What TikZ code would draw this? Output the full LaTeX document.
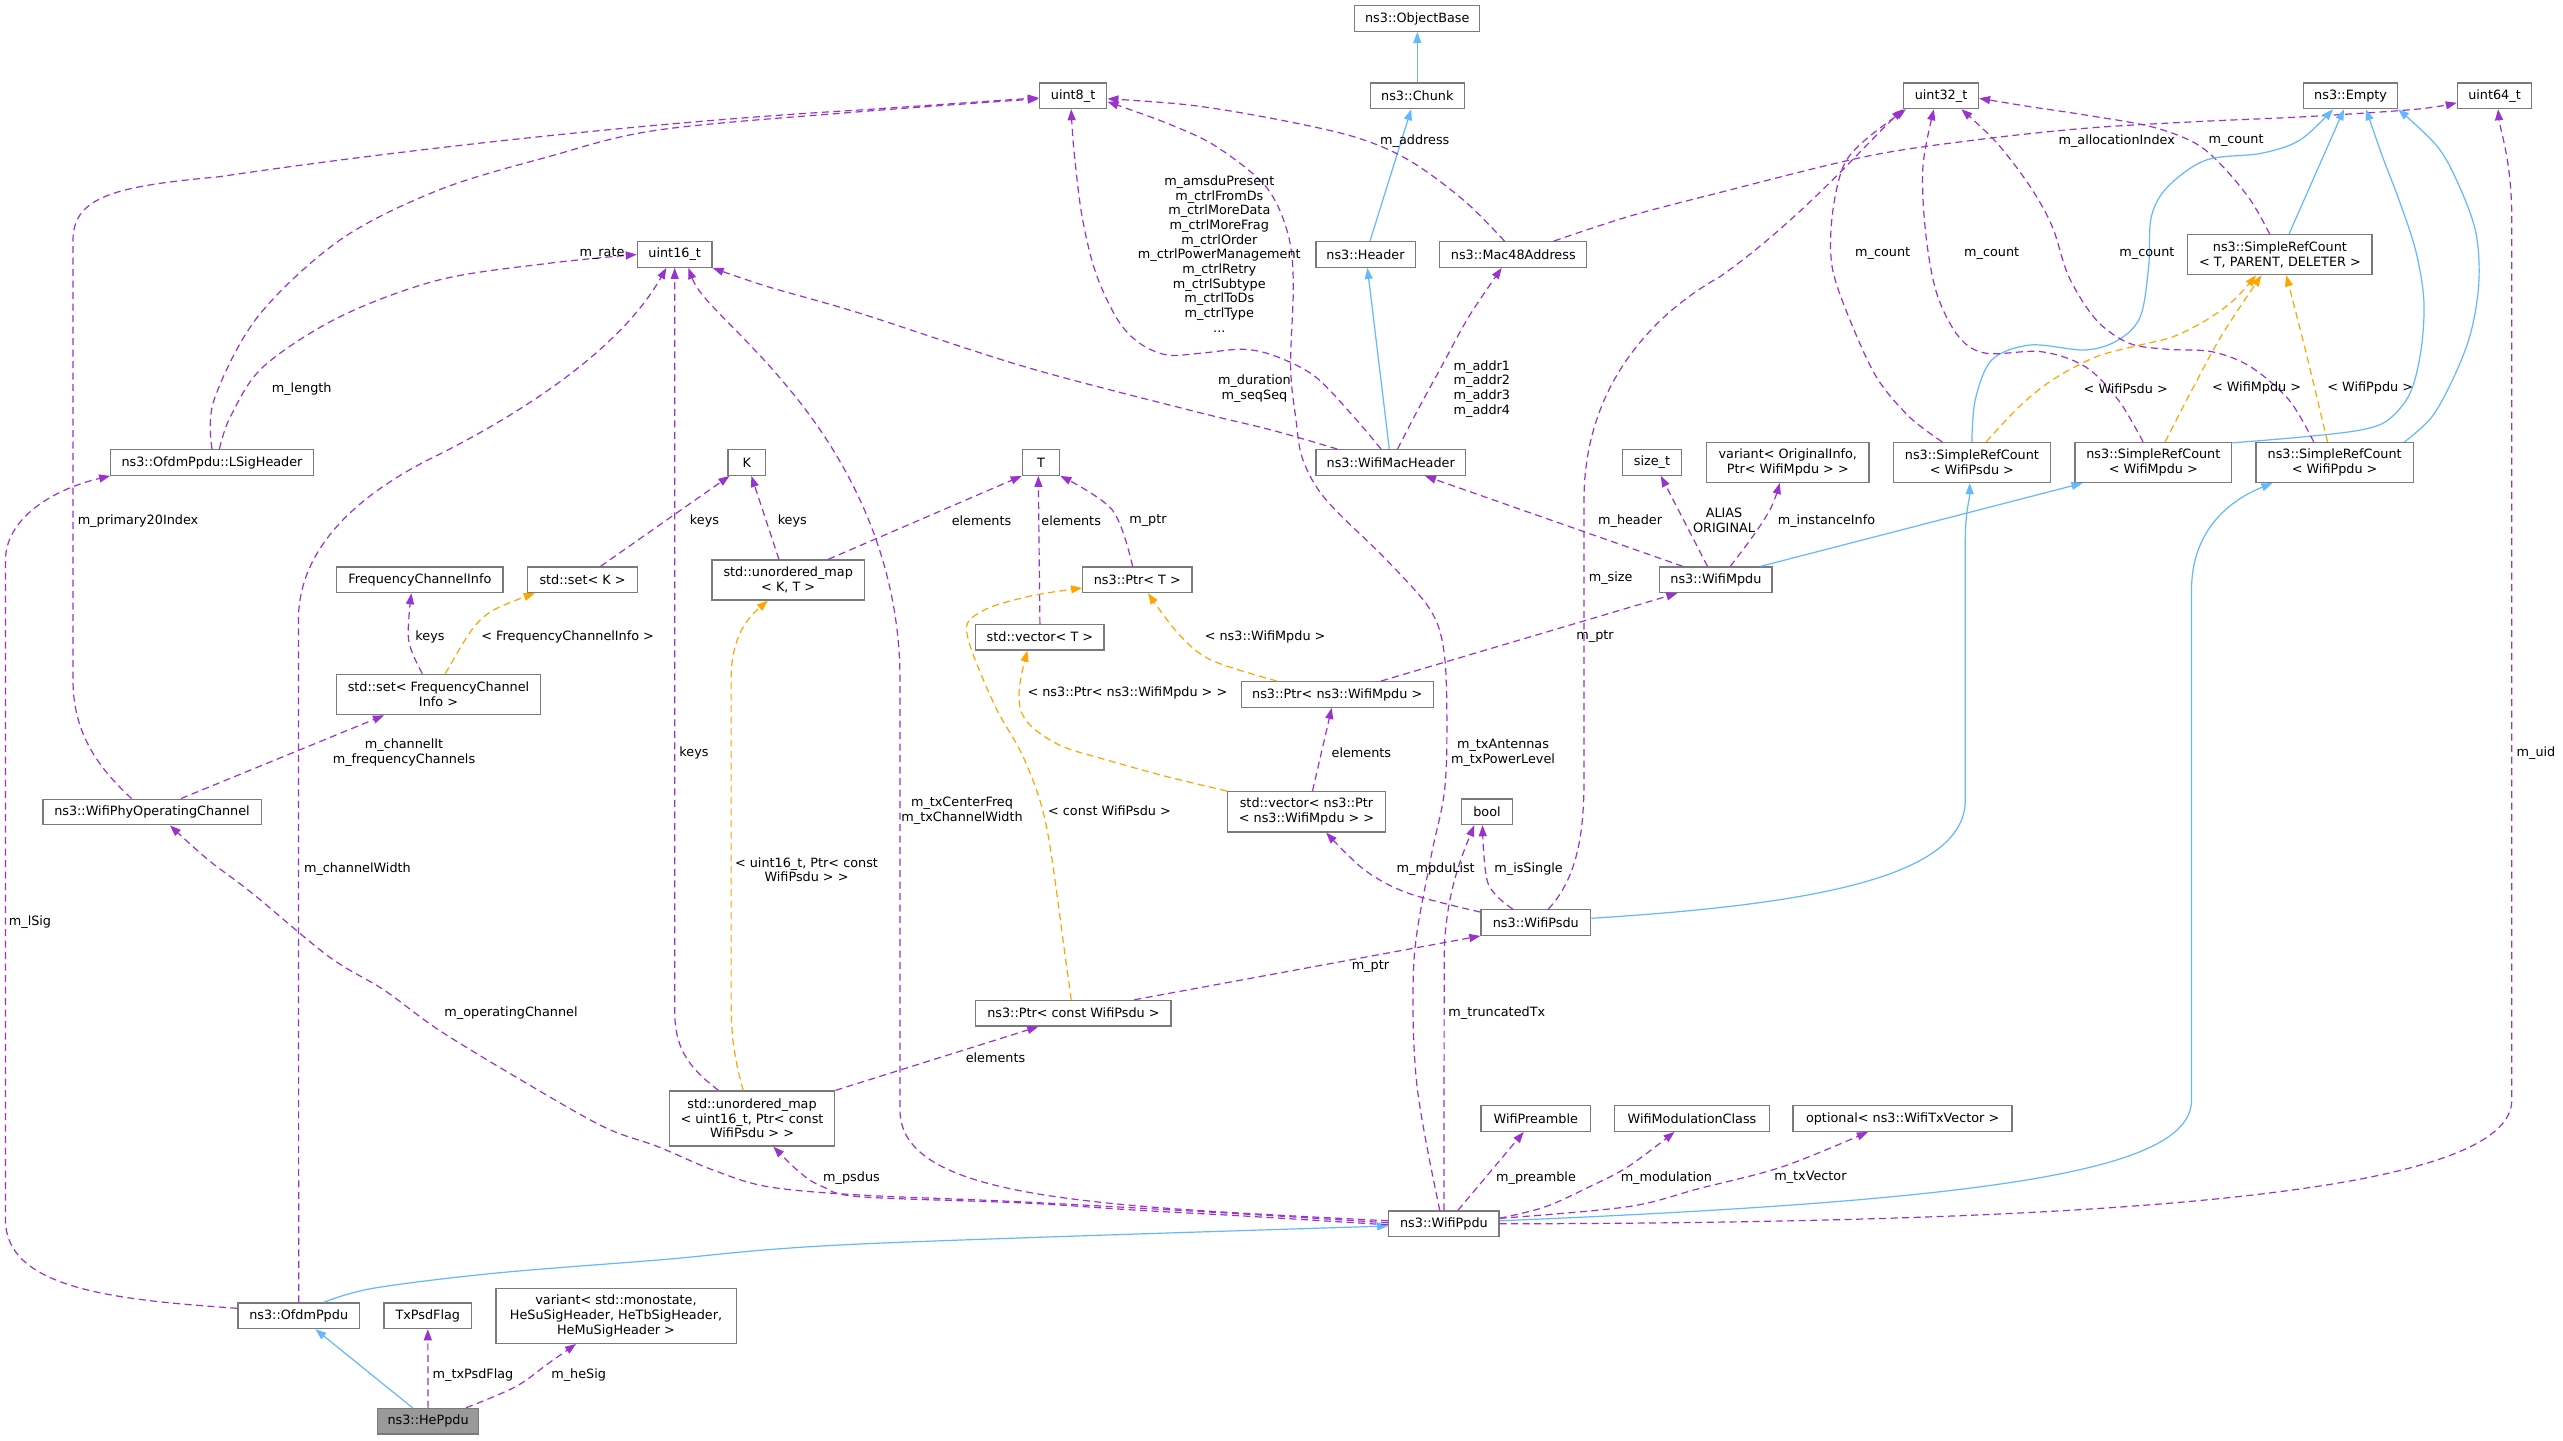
\documentclass[tikz,border=0pt]{standalone}
\usepackage{fontspec}
\setmainfont{DejaVu Sans}
\usetikzlibrary{arrows.meta}
\definecolor{purp}{HTML}{9A32CD}
\definecolor{blu}{HTML}{63B8FF}
\definecolor{orng}{HTML}{FFA500}
\definecolor{bord}{HTML}{7A7A7A}
\definecolor{hefill}{HTML}{999999}
\newcommand\dxf{\fontsize{12.8}{14.7}\selectfont}
\tikzset{
  box/.style={draw=bord, line width=1.3pt, fill=white, inner sep=2pt, minimum height=25.6pt, font=\dxf, align=center},
  lbl/.style={inner sep=0pt, font=\dxf, align=center},
  tipstyle/.style={-{Triangle[length=11pt,width=8pt]}},
  pe/.style={draw=purp, line width=1.2pt, dash pattern=on 7pt off 4.5pt, tipstyle},
  oe/.style={draw=orng, line width=1.2pt, dash pattern=on 7pt off 4.5pt, tipstyle},
  be/.style={draw=blu, line width=1.2pt, tipstyle},
  sm/.style={smooth, tension=.55}
}
\begin{document}
\begin{tikzpicture}[x=1pt,y=-1pt]
\fill[white] (0,0) rectangle (2563,1440);
\useasboundingbox (0,0) rectangle (2563,1440);

% ---------- nodes ----------
\node[box,minimum width=101.4pt,fill=hefill] (hepdu) at (428.1,1421.2) {ns3::HePpdu};
\node[box,minimum width=121.3pt] (ofdm) at (298.7,1315.8) {ns3::OfdmPpdu};
\node[box,minimum width=87.7pt] (txpsd) at (427.8,1315.8) {TxPsdFlag};
\node[box,minimum width=240.3pt,minimum height=54.7pt] (hesig) at (616,1316) {variant< std::monostate,\\ HeSuSigHeader, HeTbSigHeader,\\ HeMuSigHeader >};
\node[box,minimum width=110.2pt] (ppdu) at (1443.9,1223.8) {ns3::WifiPpdu};
\node[box,minimum width=109.7pt] (pre) at (1535.8,1118.5) {WifiPreamble};
\node[box,minimum width=154.7pt] (mod) at (1692,1118.5) {WifiModulationClass};
\node[box,minimum width=219pt] (txv) at (1902.6,1118.5) {optional< ns3::WifiTxVector >};
\node[box,minimum width=165.6pt,minimum height=55pt] (um16) at (752,1118.5) {std::unordered\_map\\< uint16\_t, Ptr< const\\ WifiPsdu > >};
\node[box,minimum width=195.3pt] (pconst) at (1073.4,1013.2) {ns3::Ptr< const WifiPsdu >};
\node[box,minimum width=218.3pt] (wpoc) at (152,812) {ns3::WifiPhyOperatingChannel};
\node[box,minimum width=203.5pt,minimum height=40.4pt] (setfci) at (438.5,694.5) {std::set< FrequencyChannel\\ Info >};
\node[box,minimum width=166.2pt] (fci) at (419.9,579.8) {FrequencyChannelInfo};
\node[box,minimum width=109.7pt] (setk) at (582.5,579.8) {std::set< K >};
\node[box,minimum width=152.4pt,minimum height=40pt] (umkt) at (788.2,580) {std::unordered\_map\\< K, T >};
\node[box,minimum width=37.8pt] (K) at (746.8,462.5) {K};
\node[box,minimum width=37.3pt] (T) at (1041,462.5) {T};
\node[box,minimum width=109.1pt] (ptrT) at (1137.3,579.8) {ns3::Ptr< T >};
\node[box,minimum width=128.4pt] (vecT) at (1039.9,637.2) {std::vector< T >};
\node[box,minimum width=192pt] (pmpdu) at (1337.2,694.5) {ns3::Ptr< ns3::WifiMpdu >};
\node[box,minimum width=158pt,minimum height=40.3pt] (vecp) at (1306.5,811.8) {std::vector< ns3::Ptr\\< ns3::WifiMpdu > >};
\node[box,minimum width=50.5pt] (bool) at (1487,811.8) {bool};
\node[box,minimum width=109.7pt] (psdu) at (1535.8,922.5) {ns3::WifiPsdu};
\node[box,minimum width=112.4pt] (mpdu) at (1715.9,579.8) {ns3::WifiMpdu};
\node[box,minimum width=149.7pt] (wmh) at (1390.7,462.5) {ns3::WifiMacHeader};
\node[box,minimum width=59.3pt] (sizet) at (1652,462.5) {size\_t};
\node[box,minimum width=162.4pt,minimum height=39.7pt] (vinfo) at (1787.8,462.5) {variant< OriginalInfo,\\ Ptr< WifiMpdu > >};
\node[box,minimum width=157.4pt,minimum height=40pt] (srcpsdu) at (1971.9,462.5) {ns3::SimpleRefCount\\< WifiPsdu >};
\node[box,minimum width=156.9pt,minimum height=40pt] (srcmpdu) at (2153.3,462.5) {ns3::SimpleRefCount\\< WifiMpdu >};
\node[box,minimum width=157.4pt,minimum height=40pt] (srcppdu) at (2334.6,462.5) {ns3::SimpleRefCount\\< WifiPpdu >};
\node[box,minimum width=184.4pt,minimum height=40pt] (srcT) at (2279.9,254.7) {ns3::SimpleRefCount\\< T, PARENT, DELETER >};
\node[box,minimum width=99.3pt] (hdr) at (1365.5,254.5) {ns3::Header};
\node[box,minimum width=147pt] (mac) at (1513.3,254.5) {ns3::Mac48Address};
\node[box,minimum width=74.6pt] (u16) at (674.7,254.5) {uint16\_t};
\node[box,minimum width=202.4pt] (lsig) at (212,462.5) {ns3::OfdmPpdu::LSigHeader};
\node[box,minimum width=67.4pt] (u8) at (1073.1,95.8) {uint8\_t};
\node[box,minimum width=94.3pt] (chunk) at (1417.3,95.8) {ns3::Chunk};
\node[box,minimum width=125pt] (objb) at (1417.3,18.5) {ns3::ObjectBase};
\node[box,minimum width=74.9pt] (u32) at (1941,95.8) {uint32\_t};
\node[box,minimum width=93.6pt] (empty) at (2350.6,95.8) {ns3::Empty};
\node[box,minimum width=74.3pt] (u64) at (2494.5,95.8) {uint64\_t};

% ---------- edges ----------
\draw[be] ([xshift=-15.6pt]hepdu.north) -- ([xshift=16.7pt]ofdm.south);
\draw[pe] (hepdu.north) -- (txpsd.south);
\draw[pe] plot[sm] coordinates {([xshift=38pt]hepdu.north) (515.6,1386.7) (548.5,1363.3) ([xshift=-40pt]hesig.south)};
\draw[be] plot[sm] coordinates {([xshift=24.9pt]ofdm.north) (373,1288.3) (493.7,1273.3) (658.2,1260) (860,1244) ([yshift=-2.2pt]ppdu.west)};
% m_lSig
\draw[pe] ([yshift=7.5pt]ofdm.west) .. controls (120,1300) and (5.5,1290) .. (5.5,1220) -- (5.5,560) .. controls (5.5,520) and (50,490) .. (lsig.south west);
% m_channelWidth
\draw[pe] (ofdm.north) -- (298.4,620) .. controls (298.4,560) and (340,505) .. (427.8,460) .. controls (520,415) and (620,350) .. ([xshift=-8.3pt]u16.south);
% m_length
\draw[pe] plot[sm] coordinates {([xshift=7.4pt]lsig.north) (230.4,416.7) (263.3,366.7) (340,316.7) (438.8,280) (548.5,263.3) (u16.west)};
% m_rate
\draw[pe] plot[sm] coordinates {(lsig.north) (214,400) (257.8,316.7) (340,240) (438.8,190) (548.5,156.7) (658.2,130) (860,111.7) ([yshift=-3pt]u8.west)};
% m_primary20Index
\draw[pe] ([xshift=-20.4pt]wpoc.north) .. controls (95,765) and (73,730) .. (73,680) -- (73,240) .. controls (73,195) and (120,186) .. (219.4,176.7) .. controls (400,150) and (650,122) .. (860,110) -- ([yshift=-2pt]u8.west);
% channelIt
\draw[pe] ([xshift=29pt]wpoc.north) -- ([xshift=-54.5pt]setfci.south);
\draw[pe] plot[sm] coordinates {([xshift=-16.2pt]setfci.north) (408.6,640) ([xshift=-8.5pt]fci.south)};
\draw[oe] plot[sm] coordinates {([xshift=6.9pt]setfci.north) (471.7,630) (493.7,610) ([xshift=-47.7pt]setk.south)};
\draw[pe] ([xshift=18pt]setk.north) -- ([xshift=-17.3pt]K.south);
\draw[pe] ([xshift=-9.3pt]umkt.north) -- ([xshift=4.6pt]K.south);
\draw[pe] ([xshift=40pt]umkt.north) -- (T.south west);
\draw[pe] (vecT.north) -- ([xshift=-2.7pt]T.south);
\draw[pe] plot[sm] coordinates {([xshift=-4.7pt]ptrT.north) (1112.3,510) (T.south east)};
\draw[oe] plot[sm] coordinates {([xshift=-60.3pt]pmpdu.north) (1211,660) (1178,633.3) ([xshift=10.7pt]ptrT.south)};
\draw[pe] ([xshift=43.8pt]pmpdu.north) -- ([xshift=-38.6pt]mpdu.south);
\draw[pe] ([xshift=6pt]vecp.north) -- ([xshift=-5.5pt]pmpdu.south);
\draw[oe] plot[sm] coordinates {(vecp.north west) (1167.2,776.7) (1106.8,760) (1063,746.7) (1035.5,730) (1021.8,713.3) (1019,693.3) (1021.8,673.3) ([xshift=-12.6pt]vecT.south)};
\draw[oe] plot[sm] coordinates {([xshift=-2.2pt]pconst.north) (1065.7,960) (1046.5,826.7) (1024.6,760) (997,710) (975.2,660) (967,633.3) (969.7,620) (991.6,606.7) (1035.5,595) ([yshift=-8.2pt]ptrT.west)};
\draw[pe] ([xshift=60.9pt]pconst.north) -- (psdu.south west);
\draw[pe] (um16.north east) -- ([xshift=-35.1pt]pconst.south);
\draw[oe] ([xshift=-8.8pt]um16.north) .. controls (735,1060) and (731.1,1040) .. (731.1,1000) -- (731.1,680) .. controls (731.1,640) and (745,620) .. ([xshift=-20.3pt]umkt.south);
\draw[pe] ([xshift=-33.5pt]um16.north) .. controls (685,1065) and (674.7,1045) .. (674.7,1010) -- (u16.south);
% m_psdus
\draw[pe] plot[sm] coordinates {([yshift=-1pt]ppdu.west) (1244,1216) (1134,1210) (1024.6,1203) (860,1196.7) (822.8,1186.7) (800.8,1173.3) ([xshift=21.4pt]um16.south)};
% m_operatingChannel
\draw[pe] plot[sm] coordinates {([yshift=1pt]ppdu.west) (1244,1214) (1024.6,1202) (860,1195) (768,1186.7) (713,1170) (658,1146.7) (603.4,1126.7) (521,1080) (438.8,1030) (384,990) (329,956.7) (252.3,893.3) (208.4,860) ([xshift=18pt]wpoc.south)};
% m_txCenterFreq
\draw[pe] ([yshift=3pt]ppdu.west) .. controls (1100,1206) and (900,1200) .. (900,1110) -- (900,680) .. controls (900,560) and (850,460) .. (784.4,383.3) .. controls (740,330) and (700,300) .. ([xshift=13.7pt]u16.south);
% m_txAntennas
\draw[pe] plot[sm] coordinates {([xshift=-4.1pt]ppdu.north) (1416.7,1083.3) (1414,960) (1430.4,860) (1444.2,793.3) (1446.9,726.7) (1444.2,653.3) (1430.4,610) (1386.6,560) (1326.2,500) (1303,460) (1296,420) (1290.6,366.7) (1293.3,283.3) (1287.8,233.3) (1265.9,186.7) (1216.5,146.7) (1167.2,123.3) ([yshift=-6pt]u8.east)};
% m_truncatedTx
\draw[pe] (ppdu.north) -- (1444.2,960) .. controls (1444.2,900) and (1460,860) .. ([xshift=-12.7pt]bool.south);
\draw[pe] ([xshift=14pt]ppdu.north) -- ([xshift=-12.1pt]pre.south);
\draw[pe] plot[sm] coordinates {([yshift=5.5pt]ppdu.east) (1545.6,1206.7) (1589.5,1186.7) (1628,1166.7) ([xshift=-17.5pt]mod.south)};
\draw[pe] plot[sm] coordinates {([yshift=5.5pt]ppdu.east) (1627.9,1206.7) (1700,1188.3) (1782.6,1166.7) ([xshift=-34.7pt]txv.south)};
\draw[be] ([yshift=3pt]ppdu.east) .. controls (2000,1200) and (2191.5,1170) .. (2191.5,1100) -- (2191.5,590) .. controls (2191.5,530) and (2230,500) .. ([xshift=-62.2pt]srcppdu.south);
% m_uid
\draw[pe] (ppdu.east) .. controls (2150,1223) and (2511.8,1190) .. (2511.8,1100) -- (2511.8,220) .. controls (2511.8,160) and (2500,130) .. ([xshift=3.5pt]u64.south);
% psdu
\draw[be] ([yshift=4.2pt]psdu.east) .. controls (1800,905) and (1965.3,880) .. (1965.3,800) -- (1965.3,540) .. controls (1965.3,510) and (1969.7,500) .. ([xshift=-2.2pt]srcpsdu.south);
\draw[pe] plot[sm] coordinates {([yshift=-3pt]psdu.north west) (1408.5,893.3) (1364.6,870) ([xshift=19.7pt]vecp.south)};
\draw[pe] plot[sm] coordinates {([xshift=-23.1pt]psdu.north) (1488,883.3) ([xshift=-4.5pt]bool.south)};
\draw[pe] ([xshift=12.6pt]psdu.north) .. controls (1575,880) and (1584,840) .. (1584,780) -- (1584,500) .. controls (1584,380) and (1660,310) .. (1720,276.7) .. controls (1800,220) and (1860,150) .. (u32.south west);
% mpdu
\draw[pe] ([xshift=-33.1pt]mpdu.north) -- ([xshift=34.3pt]wmh.south);
\draw[pe] ([xshift=-8.4pt]mpdu.north) -- ([xshift=8.8pt]sizet.south);
\draw[pe] plot[sm] coordinates {([xshift=14.4pt]mpdu.north) (1755,533.3) (1771.5,506.7) ([xshift=-8pt]vinfo.south)};
\draw[be] ([xshift=44.6pt]mpdu.north) -- ([xshift=-70.8pt]srcmpdu.south);
% header chain
\draw[be] ([xshift=-1.4pt]wmh.north) -- ([xshift=1.9pt]hdr.south);
\draw[be] ([xshift=4.5pt]hdr.north) -- ([xshift=-6.1pt]chunk.south);
\draw[be] (chunk.north) -- (objb.south);
\draw[pe] plot[sm] coordinates {([xshift=6.8pt]wmh.north) (1419.5,406.7) (1441.4,366.7) (1468.8,316.7) ([xshift=-11.6pt]mac.south)};
\draw[pe] plot[sm] coordinates {([xshift=-9.7pt]wmh.north) (1353.7,416.7) (1315.3,376.7) (1276.9,356.7) (1244,349.3) (1200,353.3) (1167.2,355) (1139.7,343.3) (1117.8,320) (1095.9,273.3) (1082.1,216.7) (1073.9,150) ([xshift=-1.9pt]u8.south)};
\draw[pe] plot[sm] coordinates {([xshift=-53.5pt]wmh.north) (1271.4,430) (1189.1,410) (1024.6,366.7) (860,313.3) (767.9,286.7) (u16.south east)};
\draw[pe] plot[sm] coordinates {([xshift=-8.8pt]mac.north) (1463.4,200) (1408.5,160) (1353.7,136.7) (1271.4,118.3) (1189.1,105) ([yshift=-3pt]u8.east)};
\draw[pe] plot[sm] coordinates {([xshift=40.6pt]mac.north) (1627.9,216.7) (1710,195) (1865,156.7) (1975.2,140) (2085.3,128.3) (2195.4,121.7) (2305.4,116.7) (2415.5,109.3) ([yshift=-7pt]u64.west)};
% simple ref counts
\draw[be] ([xshift=9.1pt]srcT.north) -- ([xshift=-6.6pt]empty.south);
\draw[pe] plot[sm] coordinates {([xshift=-10.2pt]srcT.north) (2250.4,200) (2222.9,166.7) (2195.4,143.3) (2151.3,126.7) (2085.3,115) (2030.2,106.7) ([yshift=-2.5pt]u32.east)};
\draw[be] plot[sm] coordinates {(srcpsdu.north) (1975.2,400) (1991.7,360) (2030.2,345) (2085.3,350) (2118.3,340) (2140.3,316.7) (2148.6,266.7) (2151.3,216.7) (2167.8,186.7) (2206.3,160) (2261.4,153.3) (2300,140) ([xshift=-17.6pt]empty.south)};
\draw[pe] plot[sm] coordinates {([xshift=-29.7pt]srcpsdu.north) (1909.2,416.7) (1876.2,376.7) (1848.6,316.7) (1832.1,266.7) (1832.1,216.7) (1843.1,166.7) (1865.1,140) ([xshift=3pt]u32.south west)};
\draw[oe] plot[sm] coordinates {([xshift=14.3pt]srcpsdu.north) (2019.2,406.7) (2052.3,380) (2096.3,356.7) (2140.3,345) (2173.3,336.7) (2206.4,320) (2233.9,300) ([xshift=-24pt]srcT.south)};
\draw[be] plot[sm] coordinates {([yshift=-1pt]srcmpdu.north east) (2305.4,436.7) (2360.5,430) (2388,420) (2410,393.3) (2421,350) (2423.8,300) (2415.5,250) (2399,200) (2382.5,156.7) ([xshift=15.4pt]empty.south)};
\draw[pe] plot[sm] coordinates {([xshift=-10.2pt]srcmpdu.north) (2118.3,400) (2085.3,366.7) (2041.2,351.7) (1986.2,353.3) (1958.7,336.7) (1936.7,293.3) (1925.7,233.3) (1922.9,166.7) ([xshift=-7.1pt]u32.south)};
\draw[oe] plot[sm] coordinates {([xshift=11.8pt]srcmpdu.north) (2195.4,383.3) (2222.9,333.3) ([xshift=-18.5pt]srcT.south)};
\draw[be] plot[sm] coordinates {([xshift=69.9pt]srcppdu.north) (2432,416.7) (2454,376.7) (2470.6,333.3) (2478.8,283.3) (2476,233.3) (2459.5,186.7) (2437.5,146.7) (empty.south east)};
\draw[pe] plot[sm] coordinates {([xshift=-20.9pt]srcppdu.north) (2289,400) (2250.4,366.7) (2211.9,351.7) (2167.8,349.3) (2129.3,343.3) (2096.3,320) (2068.8,276.7) (2052.3,226.7) (2030.2,186.7) (1997.2,143.3) ([xshift=20.4pt]u32.south)};
\draw[oe] plot[sm] coordinates {([xshift=-7.1pt]srcppdu.north) (2305.4,350) ([xshift=6.3pt]srcT.south)};

% ---------- labels ----------
\node[lbl] (l1) at (473,1375) {m\_txPsdFlag};
\node[lbl] (l2) at (578.7,1375) {m\_heSig};
\node[lbl] (l3) at (30,922) {m\_lSig};
\node[lbl] (l4) at (357.4,869) {m\_channelWidth};
\node[lbl] (l5) at (301.7,389) {m\_length};
\node[lbl] (l6) at (602,254) {m\_rate};
\node[lbl] (l7) at (138,520.7) {m\_primary20Index};
\node[lbl] (l8) at (404,752.5) {m\_channelIt\\m\_frequencyChannels};
\node[lbl] (l9) at (430,636.7) {keys};
\node[lbl] (l10) at (567.7,636.7) {< FrequencyChannelInfo >};
\node[lbl] (l11) at (704.5,520.7) {keys};
\node[lbl] (l12) at (792.3,520.7) {keys};
\node[lbl] (l13) at (981.5,520.7) {elements};
\node[lbl] (l14) at (1071.2,520.7) {elements};
\node[lbl] (l15) at (1148,520.7) {m\_ptr};
\node[lbl] (l16) at (1265.1,636.7) {< ns3::WifiMpdu >};
\node[lbl] (l17) at (1595,636.7) {m\_ptr};
\node[lbl] (l18) at (1361.4,752.7) {elements};
\node[lbl] (l19) at (1127.4,693.3) {< ns3::Ptr< ns3::WifiMpdu > >};
\node[lbl] (l20) at (1109.5,810.7) {< const WifiPsdu >};
\node[lbl] (l21) at (1370.4,966.7) {m\_ptr};
\node[lbl] (l22) at (995.5,1057.7) {elements};
\node[lbl] (l23) at (806.5,869.7) {< uint16\_t, Ptr< const\\WifiPsdu > >};
\node[lbl] (l24) at (694,752.7) {keys};
\node[lbl] (l25) at (851.5,1177.7) {m\_psdus};
\node[lbl] (l26) at (511,1012.7) {m\_operatingChannel};
\node[lbl] (l27) at (962,811) {m\_txCenterFreq\\m\_txChannelWidth};
\node[lbl] (l28) at (1503,752.5) {m\_txAntennas\\m\_txPowerLevel};
\node[lbl] (l29) at (1496.8,1012.7) {m\_truncatedTx};
\node[lbl] (l30) at (1536,1177.7) {m\_preamble};
\node[lbl] (l31) at (1666.4,1177.7) {m\_modulation};
\node[lbl] (l32) at (1810.4,1177.7) {m\_txVector};
\node[lbl] (l33) at (2536,752.7) {m\_uid};
\node[lbl] (l34) at (1435.7,869.3) {m\_mpduList};
\node[lbl] (l35) at (1528.6,869.3) {m\_isSingle};
\node[lbl] (l36) at (1610.7,578.3) {m\_size};
\node[lbl] (l37) at (1630.1,520.7) {m\_header};
\node[lbl] (l38) at (1724,520.2) {ALIAS\\ORIGINAL};
\node[lbl] (l39) at (1826.5,520.7) {m\_instanceInfo};
\node[lbl,align=left,anchor=west] (l40) at (1453.5,388.7) {m\_addr1\\m\_addr2\\m\_addr3\\m\_addr4};
\node[lbl] (l41) at (1219.3,254) {m\_amsduPresent\\m\_ctrlFromDs\\m\_ctrlMoreData\\m\_ctrlMoreFrag\\m\_ctrlOrder\\m\_ctrlPowerManagement\\m\_ctrlRetry\\m\_ctrlSubtype\\m\_ctrlToDs\\m\_ctrlType\\...};
\node[lbl] (l42) at (1254.4,388.3) {m\_duration\\m\_seqSeq};
\node[lbl] (l43) at (1414.8,140.7) {m\_address};
\node[lbl] (l44) at (2116.7,140.7) {m\_allocationIndex};
\node[lbl] (l45) at (2236,140.7) {m\_count};
\node[lbl] (l46) at (1882.7,254) {m\_count};
\node[lbl] (l47) at (1991.7,254) {m\_count};
\node[lbl] (l48) at (2146.9,254) {m\_count};
\node[lbl] (l49) at (2125.7,388.3) {< WifiPsdu >};
\node[lbl] (l50) at (2256.5,388.3) {< WifiMpdu >};
\node[lbl] (l51) at (2370.2,388.3) {< WifiPpdu >};
\end{tikzpicture}
\end{document}
